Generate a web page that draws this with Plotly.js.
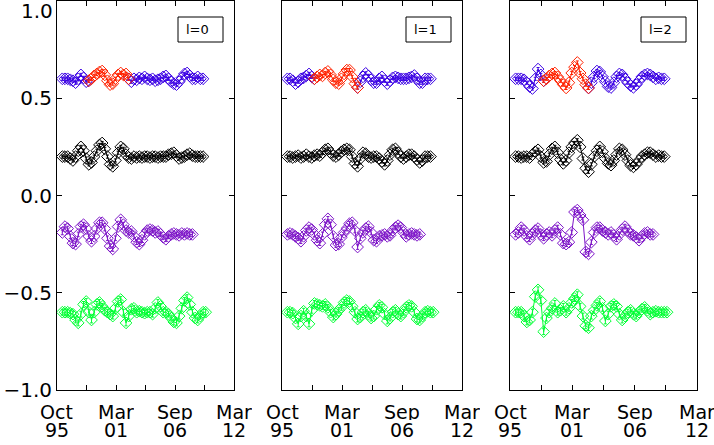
<!DOCTYPE html>
<html>
<head>
<meta charset="utf-8">
<script src="https://cdn.plot.ly/plotly-3.0.1.min.js"></script>
<style>html,body{margin:0;padding:0;background:#fff;}#chart{width:714px;height:445px;}</style>
</head>
<body>
<div id="chart"></div>
<script>
// Time in days since Oct 1995
const days = [180,270,360,450,540,630,720,810,900,990,1080,1170,1260,1350,1440,1530,1620,1710,1800,1890,
  1980,2070,2160,2250,2340,2430,2520,2610,2700,2790,2880,2970,3060,3150,3240,3330,3420,3510,3600,3690,
  3780,3870,3960,4050,4140,4230,4320,4410,4500,4590,4680,4770,4860,4950,5040];

const panelLabels = ['l=0', 'l=1', 'l=2'];
const xTickVals = [0, 1000, 2000, 3000, 4000, 5000, 6000];
const xLabelDays = [0, 2000, 4000, 6000];
const xLabelMonths = ['Oct', 'Mar', 'Sep', 'Mar'];
const xLabelYears = ['95', '01', '06', '12'];
const yTickVals = [-1, -0.5, 0, 0.5, 1];
const yTickText = ['\u22121.0', '\u22120.5', '0.0', '0.5', ''];
const yTopLabel = '1.0';

// red segment (index range) of the top series in each panel
const redFrom = [10, 10, 10];
const redTo = [25, 26, 26];

// l=0
const topL0 = [0.60,0.60,0.60,0.595,0.59,0.58,0.60,0.62,0.605,0.585,0.59,0.60,0.615,0.625,0.635,0.64,0.62,0.59,0.57,0.575,
  0.60,0.62,0.63,0.62,0.625,0.60,0.585,0.60,0.595,0.605,0.60,0.61,0.60,0.595,0.60,0.59,0.595,0.60,0.61,0.615,
  0.60,0.585,0.575,0.57,0.585,0.605,0.625,0.63,0.615,0.60,0.60,0.61,0.60,0.60];
const blackL0 = [0.20,0.20,0.20,0.19,0.18,0.20,0.23,0.25,0.23,0.19,0.16,0.17,0.20,0.23,0.26,0.27,0.24,0.20,0.16,0.15,
  0.18,0.22,0.25,0.24,0.21,0.195,0.19,0.20,0.195,0.20,0.195,0.20,0.20,0.195,0.20,0.20,0.195,0.20,0.20,0.20,
  0.21,0.215,0.22,0.205,0.19,0.195,0.20,0.21,0.215,0.205,0.20,0.20,0.20,0.20];
const purpleL0 = [-0.19,-0.16,-0.17,-0.21,-0.245,-0.25,-0.20,-0.16,-0.15,-0.17,-0.21,-0.235,-0.21,-0.17,-0.14,-0.14,-0.17,-0.22,-0.26,-0.275,
  -0.22,-0.16,-0.125,-0.15,-0.18,-0.19,-0.185,-0.21,-0.24,-0.25,-0.23,-0.20,-0.18,-0.175,-0.18,-0.19,-0.185,-0.20,-0.215,-0.225,
  -0.21,-0.20,-0.195,-0.20,-0.205,-0.195,-0.20,-0.195,-0.20,-0.20];
const greenL0 = [-0.60,-0.60,-0.60,-0.605,-0.61,-0.64,-0.655,-0.61,-0.56,-0.545,-0.60,-0.64,-0.60,-0.56,-0.55,-0.57,-0.59,-0.60,-0.61,-0.62,
  -0.58,-0.545,-0.535,-0.60,-0.655,-0.62,-0.585,-0.58,-0.60,-0.595,-0.60,-0.605,-0.60,-0.60,-0.61,-0.58,-0.55,-0.57,-0.60,-0.60,
  -0.61,-0.63,-0.65,-0.655,-0.62,-0.58,-0.54,-0.525,-0.56,-0.60,-0.63,-0.64,-0.62,-0.60,-0.60];

// l=1
const topL1 = [0.60,0.60,0.59,0.575,0.585,0.60,0.605,0.615,0.625,0.61,0.60,0.61,0.62,0.615,0.63,0.638,0.62,0.595,0.58,0.575,
  0.60,0.625,0.645,0.645,0.61,0.575,0.555,0.585,0.61,0.628,0.615,0.595,0.58,0.58,0.60,0.61,0.59,0.575,0.59,0.605,
  0.61,0.605,0.60,0.60,0.60,0.605,0.61,0.617,0.60,0.58,0.58,0.60,0.60,0.60];
const blackL1 = [0.20,0.20,0.195,0.20,0.205,0.195,0.20,0.21,0.20,0.195,0.205,0.21,0.205,0.22,0.235,0.24,0.22,0.205,0.20,0.21,
  0.225,0.235,0.24,0.235,0.20,0.165,0.15,0.19,0.22,0.215,0.20,0.195,0.20,0.20,0.19,0.175,0.16,0.18,0.21,0.235,
  0.24,0.22,0.20,0.19,0.20,0.21,0.21,0.20,0.185,0.17,0.18,0.20,0.20,0.20];
const purpleL1 = [-0.20,-0.195,-0.20,-0.21,-0.22,-0.235,-0.21,-0.18,-0.165,-0.175,-0.20,-0.23,-0.245,-0.20,-0.15,-0.12,-0.15,-0.21,-0.255,-0.25,
  -0.215,-0.19,-0.17,-0.145,-0.14,-0.18,-0.265,-0.22,-0.19,-0.17,-0.16,-0.19,-0.23,-0.235,-0.21,-0.205,-0.20,-0.21,-0.205,-0.18,
  -0.165,-0.155,-0.165,-0.19,-0.21,-0.20,-0.195,-0.20,-0.205,-0.20];
const greenL1 = [-0.60,-0.60,-0.605,-0.63,-0.66,-0.62,-0.595,-0.62,-0.66,-0.59,-0.555,-0.56,-0.565,-0.57,-0.56,-0.575,-0.60,-0.625,-0.61,-0.59,
  -0.575,-0.55,-0.54,-0.545,-0.57,-0.60,-0.635,-0.625,-0.60,-0.59,-0.61,-0.63,-0.62,-0.585,-0.565,-0.575,-0.61,-0.645,-0.63,-0.60,
  -0.59,-0.61,-0.62,-0.60,-0.575,-0.565,-0.57,-0.60,-0.635,-0.64,-0.62,-0.60,-0.595,-0.60,-0.60];

// l=2
const topL2 = [0.60,0.60,0.60,0.595,0.58,0.56,0.55,0.60,0.65,0.62,0.59,0.60,0.615,0.625,0.63,0.61,0.59,0.57,0.553,0.58,
  0.63,0.66,0.684,0.63,0.60,0.57,0.553,0.58,0.61,0.64,0.635,0.61,0.585,0.56,0.555,0.58,0.61,0.625,0.62,0.60,
  0.58,0.565,0.556,0.57,0.59,0.61,0.62,0.625,0.62,0.61,0.60,0.605,0.60,0.60];
const blackL2 = [0.20,0.20,0.195,0.20,0.20,0.195,0.21,0.225,0.235,0.20,0.17,0.175,0.21,0.24,0.25,0.22,0.185,0.165,0.18,0.22,
  0.25,0.27,0.284,0.25,0.19,0.14,0.122,0.16,0.20,0.23,0.25,0.225,0.19,0.165,0.156,0.18,0.21,0.24,0.235,0.21,
  0.18,0.155,0.147,0.16,0.18,0.20,0.21,0.22,0.22,0.21,0.20,0.205,0.20,0.20];
const purpleL2 = [-0.20,-0.19,-0.165,-0.18,-0.21,-0.225,-0.20,-0.18,-0.17,-0.20,-0.22,-0.20,-0.19,-0.205,-0.18,-0.165,-0.20,-0.245,-0.25,-0.24,
  -0.19,-0.085,-0.075,-0.10,-0.125,-0.29,-0.30,-0.24,-0.19,-0.165,-0.165,-0.18,-0.19,-0.20,-0.19,-0.205,-0.225,-0.20,-0.175,-0.16,
  -0.18,-0.20,-0.205,-0.215,-0.23,-0.21,-0.195,-0.19,-0.20,-0.20];
const greenL2 = [-0.60,-0.60,-0.60,-0.62,-0.65,-0.64,-0.60,-0.52,-0.485,-0.54,-0.70,-0.63,-0.60,-0.58,-0.555,-0.60,-0.59,-0.57,-0.60,-0.58,
  -0.55,-0.53,-0.51,-0.57,-0.62,-0.67,-0.68,-0.62,-0.59,-0.565,-0.545,-0.58,-0.645,-0.61,-0.57,-0.56,-0.57,-0.61,-0.64,-0.62,
  -0.60,-0.59,-0.61,-0.62,-0.60,-0.585,-0.575,-0.59,-0.61,-0.60,-0.595,-0.60,-0.60,-0.60,-0.60];

// constant error bar half-widths per series
const errTop = 0.008, errBlack = 0.008, errPurple = 0.012, errGreen = 0.015;

const panelTop = [topL0, topL1, topL2];
const panelBlack = [blackL0, blackL1, blackL2];
const panelPurple = [purpleL0, purpleL1, purpleL2];
const panelGreen = [greenL0, greenL1, greenL2];

const COL = {blue: '#3a00e4', red: '#ff2200', black: '#000000', purple: '#7d14c8', green: '#00ff33'};

function series(xs, ys, color, err, xa, ya) {
  return {
    x: xs, y: ys, type: 'scatter', mode: 'lines+markers',
    xaxis: xa, yaxis: ya, showlegend: false, connectgaps: false,
    line: {color: color, width: 1},
    marker: {symbol: 'diamond-open', size: 9, color: color, line: {color: color, width: 1}},
    error_y: {type: 'constant', value: err, color: color, thickness: 1, width: 1.5},
    hoverinfo: 'skip'
  };
}

const traces = [];
for (let p = 0; p < 3; p++) {
  const xa = p === 0 ? 'x' : 'x' + (p + 1);
  const ya = p === 0 ? 'y' : 'y' + (p + 1);
  const top = panelTop[p];
  const xd = days.slice(0, top.length);
  const blueY = top.map((v, i) => (i <= redFrom[p] || i >= redTo[p]) ? v : null);
  const redY = top.map((v, i) => (i >= redFrom[p] && i <= redTo[p]) ? v : null);
  traces.push(series(xd, blueY, COL.blue, errTop, xa, ya));
  traces.push(series(xd, redY, COL.red, errTop, xa, ya));
  traces.push(series(days.slice(0, panelBlack[p].length), panelBlack[p], COL.black, errBlack, xa, ya));
  traces.push(series(days.slice(0, panelPurple[p].length), panelPurple[p], COL.purple, errPurple, xa, ya));
  traces.push(series(days.slice(0, panelGreen[p].length), panelGreen[p], COL.green, errGreen, xa, ya));
}

const W = 714, H = 445;
const xDomains = [[57 / W, 234 / W], [282 / W, 462 / W], [510 / W, 697 / W]];
const yDomain = [55 / H, 444 / H];
const FONT = 'DejaVu Sans, sans-serif';

const layout = {
  width: W, height: H,
  margin: {l: 0, r: 0, t: 0, b: 0, pad: 0},
  paper_bgcolor: '#ffffff', plot_bgcolor: '#ffffff',
  showlegend: false,
  font: {family: FONT, color: '#000', size: 19},
  annotations: [],
  shapes: []
};

for (let p = 0; p < 3; p++) {
  const sx = p === 0 ? '' : String(p + 1);
  const xa = 'x' + sx, ya = 'y' + sx;
  layout['xaxis' + sx] = {
    domain: xDomains[p], range: [0, 6000], anchor: ya,
    tickmode: 'array', tickvals: xTickVals, ticks: 'inside', ticklen: 5, tickcolor: '#000',
    showticklabels: false, showline: true, mirror: 'ticks', linecolor: '#000', linewidth: 1,
    showgrid: false, zeroline: false, fixedrange: true
  };
  layout['yaxis' + sx] = {
    domain: yDomain, range: [-1, 1], anchor: xa,
    tickmode: 'array', tickvals: yTickVals, ticktext: yTickText,
    ticks: 'inside', ticklen: 5, tickcolor: '#000',
    showticklabels: p === 0, tickfont: {family: FONT, size: 20, color: '#000'},
    showline: true, mirror: 'ticks', linecolor: '#000', linewidth: 1,
    showgrid: false, zeroline: false, fixedrange: true
  };
  // date tick labels, two tight lines
  xLabelDays.forEach((d, i) => {
    layout.annotations.push({xref: xa, yref: 'paper', x: d, y: 1 - 421 / H, text: xLabelMonths[i],
      showarrow: false, xanchor: 'center', yanchor: 'bottom', height: 16, borderpad: 0,
      font: {family: FONT, size: 19, color: '#000'}});
    layout.annotations.push({xref: xa, yref: 'paper', x: d, y: 1 - 421 / H, text: xLabelYears[i],
      showarrow: false, xanchor: 'center', yanchor: 'top', height: 16, borderpad: 0,
      font: {family: FONT, size: 19, color: '#000'}});
  });
  // panel label box
  const boxR = xDomains[p][1] - 11 / W;
  layout.shapes.push({type: 'rect', xref: 'paper', yref: 'paper',
    x0: boxR - 45 / W, x1: boxR, y0: 1 - 42 / H, y1: 1 - 17 / H,
    line: {color: '#000', width: 1}, fillcolor: 'rgba(0,0,0,0)'});
  layout.annotations.push({xref: 'paper', yref: 'paper', x: boxR - 39 / W, y: 1 - 29.5 / H,
    text: panelLabels[p], showarrow: false, xanchor: 'left', yanchor: 'middle',
    font: {family: FONT, size: 13, color: '#000'}});
}
layout.annotations.push({xref: 'paper', yref: 'paper', x: 54 / W, y: 1 - 1 / H, text: yTopLabel,
  showarrow: false, xanchor: 'right', yanchor: 'top', height: 18, borderpad: 0,
  font: {family: FONT, size: 20, color: '#000'}});

Plotly.newPlot('chart', traces, layout, {staticPlot: true, displayModeBar: false});
</script>
</body>
</html>
